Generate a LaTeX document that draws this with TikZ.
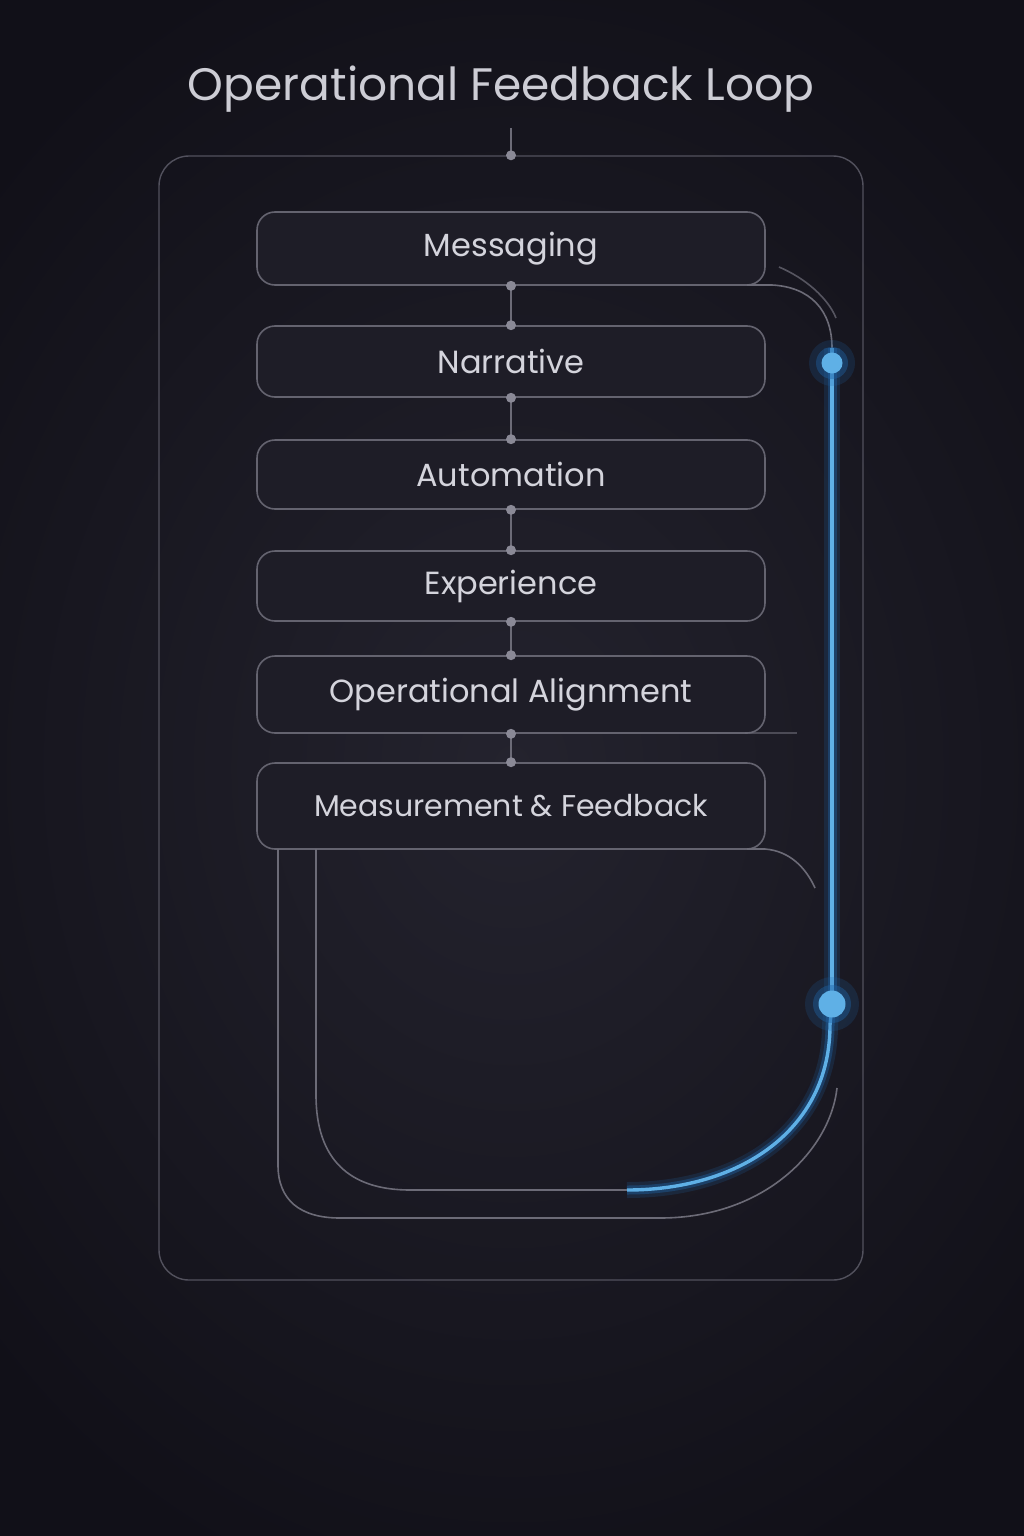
\documentclass[tikz,border=0pt]{standalone}
\usepackage{fontspec}
\setmainfont{Poppins}
\definecolor{bgdark}{HTML}{111018}
\definecolor{bgmid}{HTML}{24232E}
\definecolor{framec}{HTML}{52515D}
\definecolor{boxc}{HTML}{64636F}
\definecolor{boxfill}{HTML}{1E1D27}
\definecolor{linec}{HTML}{6C6B77}
\definecolor{dotc}{HTML}{8A8996}
\definecolor{txt}{HTML}{D4D4DC}
\definecolor{bluec}{HTML}{5FB0E6}
\definecolor{glowc}{HTML}{1F64A8}
\begin{document}
\begin{tikzpicture}[x=1pt,y=-1pt,
  line/.style={draw=linec, line width=1.6pt},
  framebox/.style={draw=framec, line width=1.4pt, rounded corners=30pt, minimum width=704pt, minimum height=1124pt, inner sep=0pt},
  stagebox/.style={draw=boxc, line width=1.6pt, rounded corners=18pt, fill=boxfill, minimum width=508pt, text=txt, font=\fontsize{32}{38}\selectfont, inner sep=0pt},
  titletext/.style={text=txt!92!gray, font=\fontsize{45.5}{54}\selectfont, inner sep=0pt},
  blueline/.style={draw=bluec, line width=3.4pt},
  glowA/.style={draw=glowc, line width=16pt, opacity=0.2},
  glowB/.style={draw=glowc, line width=9pt, opacity=0.4},
  dotfill/.style={fill=dotc}
]
\useasboundingbox (0,0) rectangle (1024,1536);
\fill[bgdark] (0,0) rectangle (1024,1536);
\shade[inner color=bgmid, outer color=bgdark] (-200,-100) rectangle (1224,1636);

% title
\node[titletext] (title) at (501,89) {Operational Feedback Loop};

% frame
\node[framebox] (frame) at (511,718) {};
\coordinate (topin) at (511,128);
\draw[line] (topin) -- (frame.north);
\fill[dotfill] (frame.north) circle[radius=5pt];

% stages
\node[stagebox, minimum height=73pt] (msg) at (511,248.5) {Messaging};
\node[stagebox, minimum height=71pt] (nar) at (511,361.5) {Narrative};
\node[stagebox, minimum height=69pt] (aut) at (511,474.5) {Automation};
\node[stagebox, minimum height=70pt] (exp) at (511,586) {Experience};
\node[stagebox, minimum height=77pt] (ops) at (511,694.5) {Operational Alignment};
\node[stagebox, minimum height=86pt, font=\fontsize{30}{36}\selectfont] (mea) at (511,806) {Measurement \& Feedback};

\foreach \a/\b in {msg/nar,nar/aut,aut/exp,exp/ops,ops/mea}{
  \draw[line] (\a.south) -- (\b.north);
  \fill[dotfill] (\a.south) circle[radius=5pt];
  \fill[dotfill] (\b.north) circle[radius=5pt];
}

% coordinates for loop
\coordinate (msgx) at (747,285);
\coordinate (b1) at (832,348);
\coordinate (d1) at (832,363);
\coordinate (d2) at (832,1004);
\coordinate (d2b) at (830,1025);
\coordinate (arcA) at (779,267);
\coordinate (arcB) at (836,318);
\coordinate (opsx) at (745,733);
\coordinate (opsy) at (797,733);
\coordinate (meax) at (747,849);
\coordinate (meay) at (815,888);
\coordinate (oU1) at (278,849);
\coordinate (oU2) at (837,1088);
\coordinate (iU1) at (316,849);
\coordinate (iU2) at (627,1190);

% gray extensions
\draw[line] (msgx) -- (772,285) .. controls (810,287) and (832,310) .. (b1);
\draw[line, draw opacity=0.75] (arcA) .. controls (805,278) and (828,298) .. (arcB);
\draw[line, draw opacity=0.6] (opsx) -- (opsy);
\draw[line] (meax) -- (765,849) .. controls (790,851) and (806,868) .. (meay);

% U lines
\draw[line] (oU1) -- (278,1165) .. controls (278,1200) and (300,1218) .. (340,1218) -- (660,1218) .. controls (765,1218) and (830,1150) .. (oU2);
\draw[line] (iU1) -- (316,1095) .. controls (316,1160) and (350,1190) .. (410,1190) -- (iU2);

% blue loop with glow
\foreach \s in {glowA,glowB,blueline}{
  \draw[\s] (b1) -- (d1) -- (d2);
  \draw[\s] (iU2) .. controls (740,1190) and (830,1130) .. (d2b) -- (d2);
}
\fill[glowc, opacity=0.2] (d1) circle[radius=23pt];
\fill[glowc, opacity=0.4] (d1) circle[radius=16pt];
\fill[bluec] (d1) circle[radius=10.5pt];
\fill[glowc, opacity=0.2] (d2) circle[radius=27pt];
\fill[glowc, opacity=0.4] (d2) circle[radius=19pt];
\fill[bluec] (d2) circle[radius=13.5pt];
\end{tikzpicture}
\end{document}
